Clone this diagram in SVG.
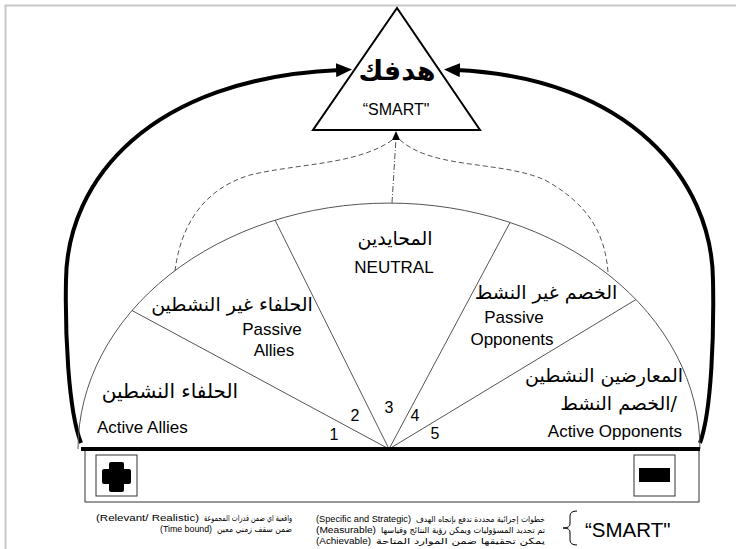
<svg xmlns="http://www.w3.org/2000/svg" width="736" height="549" viewBox="0 0 736 549">
<style>
.en{font-family:"Liberation Sans",Arial,sans-serif;fill:#000}
.ar{font-family:"DejaVu Sans","Liberation Sans",sans-serif;fill:#000}
.sm{font-size:8.5px}
.sec{stroke:#555;stroke-width:1;fill:none}
.thick{stroke:#000;stroke-width:4;fill:none}
.dash{stroke:#555;stroke-width:1;fill:none;stroke-dasharray:5 3}
.box{fill:#fff;stroke:#333;stroke-width:1}
</style>
<defs>
<marker id="big" markerUnits="userSpaceOnUse" markerWidth="16" markerHeight="14" refX="4" refY="7" orient="auto">
<path d="M0,0 L16,7 L0,14 z" fill="#000"/>
</marker>
</defs>
<rect width="736" height="549" fill="#fff"/>
<path d="M5.5,549 V5.5 H736" fill="none" stroke="#c8c8c8" stroke-width="2"/>

<g id="connectors">
<path class="thick" d="M81,443 C68,410 65,330 66,280 C67,180 150,78 340,70" marker-end="url(#big)"/>
<path class="thick" d="M700,443 C712,410 714,330 713,280 C712,180 630,78 456,70" marker-end="url(#big)"/>
<path class="dash" d="M175,271 C180,230 200,190 250,175 C300,163 360,165 395,138"/>
<path class="dash" d="M608,272 C605,235 590,205 545,180 C500,160 430,170 398,138"/>
<path d="M392,203 L396,138" stroke="#555" stroke-width="1" fill="none" stroke-dasharray="6 2 1 2"/>
<polygon points="396,131 392,140 400,140" fill="#000"/>
</g>

<g id="goal">
<polygon points="397,8 313,130 480,130" fill="#fff" stroke="#000" stroke-width="2"/>
<text class="ar" x="397" y="80" font-size="27" font-weight="bold" text-anchor="middle">هدفك</text>
<text class="en" x="396" y="115" font-size="16" text-anchor="middle">“SMART"</text>
</g>

<g id="spectrum">
<path class="sec" d="M78,449 A311,246 0 0 1 700,449"/>
<line class="sec" x1="389" y1="449" x2="132" y2="310.5"/>
<line class="sec" x1="389" y1="449" x2="275" y2="220"/>
<line class="sec" x1="389" y1="449" x2="510" y2="222.5"/>
<line class="sec" x1="389" y1="449" x2="636" y2="299.5"/>
</g>

<g id="active-allies">
<text class="ar" x="170" y="398" font-size="20" text-anchor="middle">الحلفاء النشطين</text>
<text class="en" x="97" y="433" font-size="17">Active Allies</text>
<text class="en" x="334" y="440" font-size="16" text-anchor="middle">1</text>
</g>

<g id="passive-allies">
<text class="ar" x="232" y="311" font-size="19" text-anchor="middle">الحلفاء غير النشطين</text>
<text class="en" x="272" y="335" font-size="17" text-anchor="middle">Passive</text>
<text class="en" x="274" y="356" font-size="17" text-anchor="middle">Allies</text>
<text class="en" x="355" y="421" font-size="16" text-anchor="middle">2</text>
</g>

<g id="neutral">
<text class="ar" x="395" y="245" font-size="19" text-anchor="middle">المحايدين</text>
<text class="en" x="394" y="273" font-size="17" text-anchor="middle">NEUTRAL</text>
<text class="en" x="389" y="413" font-size="16" text-anchor="middle">3</text>
</g>

<g id="passive-opponents">
<text class="ar" x="546" y="299" font-size="19" text-anchor="middle">الخصم غير النشط</text>
<text class="en" x="514" y="323" font-size="17" text-anchor="middle">Passive</text>
<text class="en" x="512" y="345" font-size="17" text-anchor="middle">Opponents</text>
<text class="en" x="415" y="421" font-size="16" text-anchor="middle">4</text>
</g>

<g id="active-opponents">
<text class="ar" x="604" y="382" font-size="19" text-anchor="middle">المعارضين النشطين</text>
<text class="ar" x="677" y="410" font-size="19" text-anchor="end">الخصم النشط/</text>
<text class="en" x="682" y="437" font-size="17" text-anchor="end">Active Opponents</text>
<text class="en" x="435" y="439" font-size="16" text-anchor="middle">5</text>
</g>

<g id="base">
<rect x="85" y="449" width="614" height="53" fill="#fff" stroke="#333" stroke-width="1"/>
<line x1="81" y1="449" x2="700" y2="449" stroke="#000" stroke-width="4"/>
</g>

<g id="plus">
<rect class="box" x="96" y="455" width="41" height="41"/>
<rect x="109" y="462" width="15" height="30" rx="2" fill="#000"/>
<rect x="102" y="469" width="29" height="15" rx="2" fill="#000"/>
</g>

<g id="minus">
<rect class="box" x="634" y="455" width="41" height="41"/>
<rect x="639" y="468" width="31" height="14" fill="#000"/>
</g>

<g id="legend">
<text class="en sm" x="316" y="522" textLength="95" lengthAdjust="spacingAndGlyphs">(Specific and Strategic)</text>
<text class="ar sm" x="416" y="522" textLength="129" lengthAdjust="spacingAndGlyphs">خطوات إجرائية محددة تدفع بإتجاه الهدف</text>
<text class="en sm" x="316" y="533" textLength="60" lengthAdjust="spacingAndGlyphs">(Measurable)</text>
<text class="ar sm" x="381" y="533" textLength="164" lengthAdjust="spacingAndGlyphs">تم تحديد المسؤوليات ويمكن رؤية النتائج وقياسها</text>
<text class="en sm" x="316" y="544" textLength="55" lengthAdjust="spacingAndGlyphs">(Achievable)</text>
<text class="ar sm" x="376" y="544" textLength="169" lengthAdjust="spacingAndGlyphs">يمكن تحقيقها ضمن الموارد المتاحة</text>
<text class="en sm" x="96" y="521" textLength="103" lengthAdjust="spacingAndGlyphs">(Relevant/  Realistic)</text>
<text class="ar sm" x="204" y="521" textLength="88" lengthAdjust="spacingAndGlyphs">واقعية اي ضمن قدرات المجموعة</text>
<text class="en sm" x="160" y="532" textLength="52" lengthAdjust="spacingAndGlyphs">(Time bound)</text>
<text class="ar sm" x="217" y="532" textLength="75" lengthAdjust="spacingAndGlyphs">ضمن سقف زمني معين</text>
<path d="M577,511 Q570,511 570,516 L570,524 Q570,528 563,528 Q570,528 570,532 L570,540 Q570,545 577,545" fill="none" stroke="#000" stroke-width="1"/>
<text class="en" x="585" y="537" font-size="20.5">“SMART"</text>
</g>
</svg>
